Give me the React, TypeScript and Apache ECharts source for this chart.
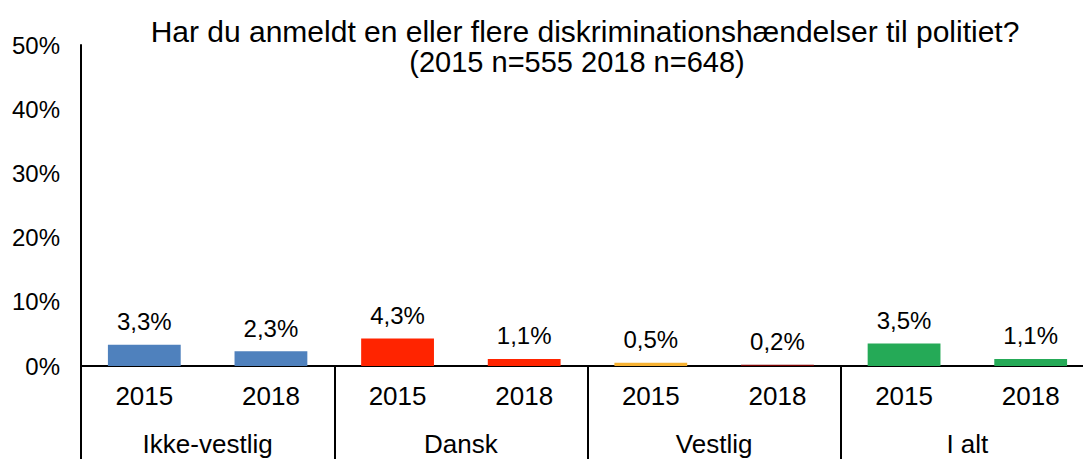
import React, { useEffect, useRef } from "react";
import * as echarts from "echarts";

const years = ["2015", "2018", "2015", "2018", "2015", "2018", "2015", "2018"];
const groups = ["Ikke-vestlig", "Dansk", "Vestlig", "I alt"];
const values = [3.3, 2.3, 4.3, 1.1, 0.5, 0.2, 3.5, 1.1];
const colors = ["#4F81BD", "#4F81BD", "#FF2400", "#FF2400", "#F7B232", "#7A0000", "#25AA57", "#25AA57"];
const yTicks = [0, 10, 20, 30, 40, 50];
const titleLine1 = "Har du anmeldt en eller flere diskriminationshændelser til politiet?";
const titleLine2 = "(2015 n=555 2018 n=648)";

const FONT = "'Liberation Sans', Arial, sans-serif";

export default function App() {
  const ref = useRef<HTMLDivElement>(null);
  useEffect(() => {
    if (!ref.current) return;
    const chart = echarts.init(ref.current, null, { renderer: "svg" });
    chart.setOption({
      animation: false,
      backgroundColor: "#ffffff",
      textStyle: { fontFamily: FONT, color: "#000" },
      graphic: [
        {
          type: "text",
          x: 585,
          y: 16,
          style: { text: titleLine1, textAlign: "center", font: `30px ${FONT}`, fill: "#000" },
        },
        {
          type: "text",
          x: 577,
          y: 47,
          style: { text: titleLine2, textAlign: "center", font: `29px ${FONT}`, fill: "#000" },
        },
      ],
      grid: { left: 81, top: 45, width: 1013, height: 321, containLabel: false },
      xAxis: [
        {
          type: "category",
          data: years,
          position: "bottom",
          axisLine: { show: true, lineStyle: { color: "#000", width: 2 } },
          axisTick: { show: false },
          axisLabel: { fontSize: 26, color: "#000", margin: 17, fontFamily: FONT, interval: 0 },
        },
        {
          type: "category",
          data: groups,
          position: "bottom",
          axisLine: { show: false },
          axisTick: { show: true, length: 93, lineStyle: { color: "#000", width: 2 } },
          axisLabel: { fontSize: 26, color: "#000", margin: 65, fontFamily: FONT, interval: 0 },
        },
      ],
      yAxis: {
        type: "value",
        min: yTicks[0],
        max: yTicks[yTicks.length - 1],
        interval: 10,
        axisLine: { show: true, lineStyle: { color: "#000", width: 2 } },
        axisTick: { show: false },
        splitLine: { show: false },
        axisLabel: { fontSize: 24, color: "#000", margin: 21, fontFamily: FONT, formatter: (v: number) => `${v}%` },
      },
      series: [
        {
          type: "bar",
          xAxisIndex: 0,
          barWidth: "57.5%",
          data: values.map((v, i) => ({ value: v, itemStyle: { color: colors[i] } })),
          label: {
            show: true,
            position: "top",
            distance: 11,
            fontSize: 24,
            color: "#000",
            fontFamily: FONT,
            formatter: (p: any) => `${String(p.value).replace(".", ",")}%`,
          },
        },
      ],
    });
    return () => chart.dispose();
  }, []);
  return (
    <div style={{ width: 1083, height: 459, position: "absolute", left: 0, top: 0, overflow: "hidden" }}>
      <div ref={ref} style={{ width: 1110, height: 459 }} />
    </div>
  );
}
